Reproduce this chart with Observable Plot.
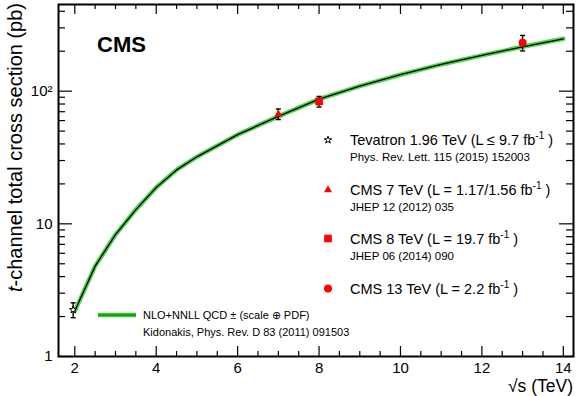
<!DOCTYPE html>
<html><head><meta charset="utf-8">
<script src="https://cdn.jsdelivr.net/npm/d3@7"></script>
<script src="https://cdn.jsdelivr.net/npm/@observablehq/plot@0.6"></script>
<style>
body{margin:0;background:#fff;}
#chart{position:relative;width:581px;height:396px;}
</style></head><body><div id="chart"></div>
<script>
// Theory curve (NLO+NNLL QCD, Kidonakis)
const energies   = [2, 2.5, 3, 3.5, 4, 4.5, 5, 6, 7, 8, 9, 10, 11, 12, 13, 14];
const theoryXsec = [2.2, 4.8, 8.3, 12.8, 18.8, 25.5, 32, 47, 64.5, 87, 109, 133, 159, 186, 216, 248];
// Measurements
const measNames  = ["Tevatron 1.96 TeV", "CMS 7 TeV", "CMS 8 TeV", "CMS 13 TeV"];
const measEnergy = [1.96, 7, 8, 13];
const measXsec   = [2.25, 67.2, 83.6, 232];
const measErr    = [0.29, 6.1, 7.7, 31];
const measSymbol = ["star", "triangle", "square", "circle"];
// Ticks
const xMajor = [2, 4, 6, 8, 10, 12, 14];
const xMinor = [2.5, 3, 3.5, 4.5, 5, 5.5, 6.5, 7, 7.5, 8.5, 9, 9.5, 10.5, 11, 11.5, 12.5, 13, 13.5];
const yMajor = [1, 10, 100];
const yMinor = [2,3,4,5,6,7,8,9,20,30,40,50,60,70,80,90,200,300,400];
const yTickLabels = ["1", "10", "10²"];

const W = 581, H = 396, mL = 58, mR = 8, mT = 4, mB = 40;
const fw = W - mL - mR, fh = H - mT - mB;
const FONT = "'Liberation Sans', Arial, Helvetica, sans-serif";

const theory = energies.map((e, i) => ({e, v: theoryXsec[i]}));
const meas = measEnergy.map((e, i) => ({e, v: measXsec[i], lo: measXsec[i] - measErr[i], hi: measXsec[i] + measErr[i], sym: measSymbol[i], name: measNames[i]}));
const cap = {draw(ctx) { ctx.moveTo(-2.5, 0); ctx.lineTo(2.5, 0); }};
const GREEN = "#33cc33";

const marks = [
  Plot.line(theory, {x: "e", y: "v", stroke: GREEN, strokeWidth: 4.5, strokeOpacity: 0.85}),
  Plot.line(theory, {x: "e", y: "v", stroke: "black", strokeWidth: 1.3}),
  Plot.ruleX(meas, {x: "e", y1: "lo", y2: "hi", stroke: "black", strokeWidth: 1.4}),
  Plot.dot(meas, {x: "e", y: "lo", symbol: cap, stroke: "black", strokeWidth: 1.4, fill: "none"}),
  Plot.dot(meas, {x: "e", y: "hi", symbol: cap, stroke: "black", strokeWidth: 1.4, fill: "none"}),
  Plot.dot(meas, {filter: d => d.sym === "star", x: "e", y: "v", symbol: "star", r: 2.3, stroke: "black", strokeWidth: 1, fill: "white"}),
  Plot.dot(meas, {filter: d => d.sym === "triangle", x: "e", y: "v", symbol: "triangle", r: 3, fill: "red", stroke: "none"}),
  Plot.dot(meas, {filter: d => d.sym === "square", x: "e", y: "v", symbol: "square", r: 4.3, fill: "red", stroke: "none"}),
  Plot.dot(meas, {filter: d => d.sym === "circle", x: "e", y: "v", r: 4, fill: "red", stroke: "none"}),
  // inward ticks
  Plot.tickX(xMajor, {x: d => d, insetTop: fh - 10, stroke: "black", strokeWidth: 1.2}),
  Plot.tickX(xMinor, {x: d => d, insetTop: fh - 5, stroke: "black", strokeWidth: 1.2}),
  Plot.tickX(xMajor, {x: d => d, insetBottom: fh - 10, stroke: "black", strokeWidth: 1.2}),
  Plot.tickX(xMinor, {x: d => d, insetBottom: fh - 5, stroke: "black", strokeWidth: 1.2}),
  Plot.tickY(yMajor, {y: d => d, insetRight: fw - 14, stroke: "black", strokeWidth: 1.2}),
  Plot.tickY(yMinor, {y: d => d, insetRight: fw - 7, stroke: "black", strokeWidth: 1.2}),
  Plot.tickY(yMajor, {y: d => d, insetLeft: fw - 14, stroke: "black", strokeWidth: 1.2}),
  Plot.tickY(yMinor, {y: d => d, insetLeft: fw - 7, stroke: "black", strokeWidth: 1.2}),
  Plot.axisX({ticks: xMajor, tickSize: 0, tickPadding: 6, label: null, tickFormat: d => String(d)}),
  Plot.axisY({ticks: yMajor, tickSize: 0, tickPadding: 6, label: null, tickFormat: d => yTickLabels[yMajor.indexOf(d)]}),
  Plot.frame({stroke: "black", strokeWidth: 2})
];

const svgNode = Plot.plot({
  width: W, height: H,
  marginLeft: mL, marginRight: mR, marginTop: mT, marginBottom: mB,
  x: {domain: [1.6, 14.25]},
  y: {type: "log", domain: [1, 450]},
  style: {fontFamily: FONT, fontSize: "15px", color: "black", background: "white", overflow: "visible"},
  marks
});
document.getElementById("chart").appendChild(svgNode);

const svg = d3.select(svgNode);
const g = svg.append("g").attr("font-family", FONT).attr("fill", "black").attr("text-anchor", "start");

// CMS label
g.append("text").attr("x", 97).attr("y", 51.5).attr("font-size", 22).attr("font-weight", "bold").text("CMS");

// Y axis title
const yt = g.append("text").attr("transform", "translate(22,3) rotate(-90)").attr("text-anchor", "end").attr("font-size", 20);
yt.append("tspan").attr("font-style", "italic").text("t");
yt.append("tspan").text("-channel total cross section (pb)");

// X axis title
g.append("text").attr("x", 573).attr("y", 392).attr("text-anchor", "end").attr("font-size", 17.5).text("√s (TeV)");

// Measurement legend
const legRows = [
  {sym: "star", main: ["Tevatron 1.96 TeV (L ≤ 9.7 fb", " )"], sub: "Phys. Rev. Lett. 115 (2015) 152003", y: 145},
  {sym: "triangle", main: ["CMS 7 TeV (L = 1.17/1.56 fb", " )"], sub: "JHEP 12 (2012) 035", y: 195},
  {sym: "square", main: ["CMS 8 TeV (L = 19.7 fb", " )"], sub: "JHEP 06 (2014) 090", y: 243.5},
  {sym: "circle", main: ["CMS 13 TeV (L = 2.2 fb", " )"], sub: null, y: 293.5}
];
const symMap = {star: [d3.symbolStar, Math.PI * 2.3 * 2.3], triangle: [d3.symbolTriangle, Math.PI * 9], square: [d3.symbolSquare, Math.PI * 4.3 * 4.3], circle: [d3.symbolCircle, Math.PI * 16]};
for (const r of legRows) {
  const [type, size] = symMap[r.sym];
  g.append("path").attr("d", d3.symbol(type, size)()).attr("transform", `translate(328,${r.y - 5})`)
    .attr("fill", r.sym === "star" ? "white" : "red").attr("stroke", r.sym === "star" ? "black" : "none").attr("stroke-width", 1);
  const t = g.append("text").attr("x", 350).attr("y", r.y).attr("font-size", 14.5);
  t.append("tspan").text(r.main[0]);
  t.append("tspan").attr("dy", -6).attr("font-size", 10).text("-1");
  t.append("tspan").attr("dy", 6).text(r.main[1]);
  if (r.sub) g.append("text").attr("x", 350).attr("y", r.y + 16).attr("font-size", 11.5).text(r.sub);
}

// Theory legend
g.append("line").attr("x1", 98).attr("x2", 136).attr("y1", 315).attr("y2", 315).attr("stroke", GREEN).attr("stroke-width", 4.5);
g.append("line").attr("x1", 98).attr("x2", 136).attr("y1", 315).attr("y2", 315).attr("stroke", "#116611").attr("stroke-width", 1.2);
g.append("text").attr("x", 143).attr("y", 318.5).attr("font-size", 11).text("NLO+NNLL QCD ± (scale ⊕ PDF)");
g.append("text").attr("x", 143).attr("y", 335.5).attr("font-size", 11).text("Kidonakis, Phys. Rev. D 83 (2011) 091503");
</script></body></html>
